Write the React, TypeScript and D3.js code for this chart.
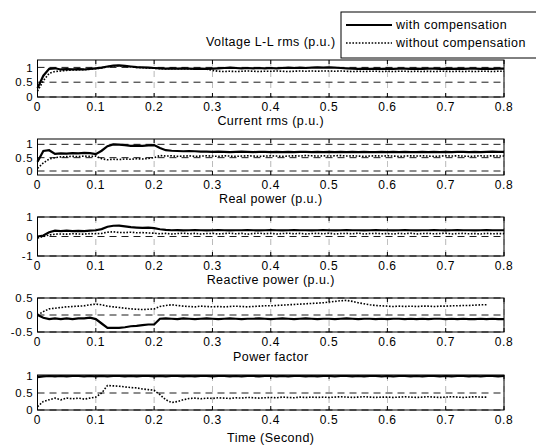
import React from "react";
import * as d3 from "d3";

// time axis (s)
const time = [
  0, 0.01, 0.02, 0.03, 0.04, 0.05, 0.06, 0.07, 0.08, 0.09,
  0.1, 0.11, 0.12, 0.13, 0.14, 0.15, 0.16, 0.17, 0.18, 0.19,
  0.2, 0.21, 0.22, 0.23, 0.24, 0.25, 0.26, 0.27, 0.28, 0.29,
  0.3, 0.31, 0.32, 0.33, 0.34, 0.35, 0.36, 0.37, 0.38, 0.39,
  0.4, 0.41, 0.42, 0.43, 0.44, 0.45, 0.46, 0.47, 0.48, 0.49,
  0.5, 0.51, 0.52, 0.53, 0.54, 0.55, 0.56, 0.57, 0.58, 0.59,
  0.6, 0.61, 0.62, 0.63, 0.64, 0.65, 0.66, 0.67, 0.68, 0.69,
  0.7, 0.71, 0.72, 0.73, 0.74, 0.75, 0.76, 0.77, 0.78, 0.79,
  0.8,
];
const xTicks = [0, 0.1, 0.2, 0.3, 0.4, 0.5, 0.6, 0.7, 0.8];

const voltageWith = [
  0.30, 0.72, 0.95, 0.97, 0.93, 0.94, 0.93, 0.94, 0.93, 0.95,
  0.97, 0.99, 1.03, 1.06, 1.07, 1.05, 1.03, 1.01, 1.00, 0.99,
  0.98, 0.97, 0.96, 0.97, 0.96, 0.97, 0.96, 0.95, 0.96, 0.95,
  0.96, 0.97, 0.98, 0.99, 0.98, 0.97, 0.98, 0.97, 0.98, 0.97,
  0.98, 0.97, 0.98, 0.99, 0.98, 0.99, 0.98, 0.99, 1.00, 0.99,
  1.00, 0.99, 0.98, 0.97, 0.96, 0.95, 0.96, 0.95, 0.96, 0.95,
  0.96, 0.95, 0.96, 0.96, 0.95, 0.96, 0.95, 0.96, 0.96, 0.95,
  0.96, 0.95, 0.96, 0.95, 0.96, 0.96, 0.95, 0.96, 0.95, 0.96,
  0.96,
];
const voltageWithout = [
  0.20, 0.55, 0.80, 0.86, 0.88, 0.90, 0.91, 0.92, 0.92, 0.94,
  0.96, 0.98, 1.02, 1.05, 1.06, 1.04, 1.02, 1.00, 0.99, 0.98,
  0.97, 0.96, 0.95, 0.96, 0.95, 0.96, 0.95, 0.94, 0.95, 0.94,
  0.90, 0.87, 0.86, 0.87, 0.86, 0.87, 0.88, 0.87, 0.86, 0.87,
  0.87, 0.88, 0.87, 0.86, 0.87, 0.88, 0.87, 0.88, 0.87, 0.88,
  0.88, 0.87, 0.88, 0.87, 0.86, 0.87, 0.86, 0.87, 0.87, 0.86,
  0.87, 0.86, 0.87, 0.87, 0.86, 0.87, 0.86, 0.87, 0.86, 0.87,
  0.87, 0.86, 0.87, 0.86, 0.87, 0.86, 0.87, 0.87, 0.86, 0.87,
  0.87,
];

const currentWith = [
  0.35, 0.75, 0.78, 0.64, 0.66, 0.65, 0.67, 0.66, 0.68, 0.67,
  0.63, 0.76, 0.93, 1.00, 0.99, 0.97, 0.94, 0.95, 0.94, 0.96,
  0.97, 0.86, 0.78, 0.76, 0.75, 0.74, 0.75, 0.74, 0.73, 0.73,
  0.72, 0.73, 0.72, 0.71, 0.72, 0.73, 0.72, 0.71, 0.72, 0.72,
  0.71, 0.72, 0.71, 0.72, 0.71, 0.72, 0.72, 0.71, 0.72, 0.71,
  0.72, 0.71, 0.72, 0.71, 0.72, 0.71, 0.72, 0.71, 0.71, 0.72,
  0.71, 0.72, 0.71, 0.72, 0.71, 0.71, 0.72, 0.71, 0.72, 0.71,
  0.72, 0.71, 0.72, 0.72, 0.71, 0.72, 0.71, 0.72, 0.73, 0.72,
  0.72,
];
const currentWithout = [
  0.10, 0.30, 0.45, 0.50, 0.53, 0.54, 0.55, 0.54, 0.56, 0.55,
  0.56, 0.46, 0.42, 0.44, 0.43, 0.45, 0.44, 0.46, 0.45, 0.47,
  0.50, 0.58, 0.56, 0.57, 0.55, 0.56, 0.57, 0.55, 0.56, 0.57,
  0.56, 0.55, 0.57, 0.56, 0.55, 0.56, 0.57, 0.56, 0.55, 0.56,
  0.57, 0.56, 0.55, 0.56, 0.57, 0.56, 0.58, 0.57, 0.56, 0.57,
  0.56, 0.57, 0.58, 0.56, 0.57, 0.56, 0.55, 0.56, 0.57, 0.56,
  0.57, 0.56, 0.55, 0.56, 0.57, 0.56, 0.57, 0.56, 0.55, 0.56,
  0.57, 0.56, 0.57, 0.56, 0.55, 0.56, 0.57, 0.56, 0.57, 0.56,
  0.56,
];

const realWith = [
  0.00, 0.05, 0.22, 0.30, 0.28, 0.30, 0.28, 0.29, 0.28, 0.30,
  0.32, 0.38, 0.50, 0.55, 0.56, 0.52, 0.48, 0.46, 0.44, 0.45,
  0.43, 0.37, 0.34, 0.32, 0.33, 0.31, 0.32, 0.33, 0.32, 0.31,
  0.32, 0.33, 0.32, 0.31, 0.32, 0.32, 0.33, 0.32, 0.31, 0.32,
  0.33, 0.32, 0.31, 0.32, 0.33, 0.32, 0.32, 0.31, 0.32, 0.33,
  0.32, 0.31, 0.32, 0.33, 0.32, 0.32, 0.31, 0.32, 0.33, 0.32,
  0.32, 0.31, 0.32, 0.33, 0.32, 0.31, 0.32, 0.32, 0.33, 0.32,
  0.31, 0.32, 0.33, 0.32, 0.32, 0.31, 0.32, 0.33, 0.32, 0.32,
  0.32,
];
const realWithout = [
  -0.08, 0.00, 0.08, 0.12, 0.13, 0.12, 0.14, 0.13, 0.12, 0.15,
  0.14, 0.16, 0.22, 0.24, 0.21, 0.20, 0.22, 0.19, 0.20, 0.18,
  0.17, 0.14, 0.16, 0.13, 0.15, 0.17, 0.14, 0.16, 0.13, 0.15,
  0.16, 0.13, 0.15, 0.17, 0.14, 0.16, 0.12, 0.15, 0.17, 0.14,
  0.16, 0.13, 0.15, 0.17, 0.14, 0.16, 0.13, 0.15, 0.16, 0.14,
  0.17, 0.13, 0.15, 0.16, 0.14, 0.17, 0.13, 0.15, 0.16, 0.14,
  0.15, 0.13, 0.16, 0.14, 0.17, 0.13, 0.15, 0.16, 0.14, 0.15,
  0.17, 0.13, 0.15, 0.16, 0.14, 0.15, 0.13, 0.16, 0.14, 0.15,
  0.15,
];

const reactiveWith = [
  0.00, -0.08, -0.12, -0.10, -0.12, -0.10, -0.12, -0.10, -0.10, -0.08,
  -0.12, -0.25, -0.38, -0.38, -0.38, -0.36, -0.33, -0.32, -0.30, -0.28,
  -0.28, -0.11, -0.10, -0.11, -0.12, -0.10, -0.11, -0.12, -0.11, -0.10,
  -0.11, -0.12, -0.11, -0.10, -0.11, -0.12, -0.11, -0.11, -0.10, -0.11,
  -0.12, -0.11, -0.10, -0.11, -0.12, -0.11, -0.10, -0.11, -0.12, -0.11,
  -0.11, -0.12, -0.11, -0.10, -0.11, -0.12, -0.11, -0.11, -0.12, -0.11,
  -0.12, -0.11, -0.11, -0.12, -0.11, -0.12, -0.11, -0.12, -0.11, -0.11,
  -0.12, -0.11, -0.12, -0.11, -0.12, -0.12, -0.11, -0.12, -0.11, -0.12,
  -0.12,
];
const reactiveWithout = [
  0.00, 0.10, 0.18, 0.20, 0.22, 0.24, 0.25, 0.26, 0.27, 0.30,
  0.32, 0.30, 0.26, 0.24, 0.22, 0.20, 0.18, 0.17, 0.16, 0.17,
  0.18, 0.25, 0.28, 0.30, 0.28, 0.26, 0.25, 0.24, 0.26, 0.25,
  0.24, 0.25, 0.24, 0.25, 0.26, 0.25, 0.24, 0.25, 0.26, 0.27,
  0.27, 0.28, 0.29, 0.30, 0.31, 0.32, 0.33, 0.34, 0.35, 0.36,
  0.38, 0.40, 0.42, 0.43, 0.40, 0.36, 0.33, 0.30, 0.28, 0.27,
  0.26, 0.25, 0.26, 0.25, 0.26, 0.25, 0.26, 0.26, 0.25, 0.26,
  0.26, 0.27, 0.27, 0.28, 0.28, 0.29, 0.30, 0.30, null, null,
  null,
];

const pfWith = [
  0.97, 0.99, 1.00, 0.99, 1.00, 0.99, 1.00, 1.00, 0.99, 1.00,
  0.99, 1.00, 0.99, 1.00, 1.00, 0.99, 1.00, 0.99, 1.00, 1.00,
  0.99, 1.00, 0.99, 1.00, 1.00, 0.99, 1.00, 0.99, 1.00, 1.00,
  0.99, 1.00, 1.00, 0.99, 1.00, 0.99, 1.00, 1.00, 0.99, 1.00,
  1.00, 0.99, 1.00, 0.99, 1.00, 1.00, 0.99, 1.00, 0.99, 1.00,
  1.00, 0.99, 1.00, 1.00, 0.99, 1.00, 0.99, 1.00, 1.00, 0.99,
  1.00, 0.99, 1.00, 1.00, 0.99, 1.00, 0.99, 1.00, 1.00, 0.99,
  1.00, 0.99, 1.00, 1.00, 0.99, 1.00, 0.99, 1.00, 1.00, 0.99,
  1.00,
];
const pfWithout = [
  0.10, 0.25, 0.30, 0.35, 0.30, 0.35, 0.33, 0.35, 0.32, 0.35,
  0.38, 0.50, 0.72, 0.71, 0.70, 0.68, 0.66, 0.65, 0.62, 0.60,
  0.58, 0.45, 0.30, 0.22, 0.25, 0.30, 0.34, 0.35, 0.33, 0.35,
  0.34, 0.36, 0.35, 0.34, 0.36, 0.35, 0.37, 0.36, 0.35, 0.36,
  0.37, 0.36, 0.38, 0.37, 0.36, 0.38, 0.37, 0.38, 0.37, 0.38,
  0.37, 0.38, 0.39, 0.38, 0.37, 0.38, 0.39, 0.38, 0.37, 0.38,
  0.38, 0.37, 0.38, 0.39, 0.38, 0.37, 0.38, 0.39, 0.38, 0.37,
  0.38, 0.39, 0.38, 0.37, 0.38, 0.39, 0.38, 0.38, null, null,
  null,
];

const titles = [
  "Voltage L-L rms (p.u.)",
  "Current rms (p.u.)",
  "Real power (p.u.)",
  "Reactive power (p.u.)",
  "Power factor",
];
const legendLabels = ["with compensation", "without compensation"];
const xLabel = "Time (Second)";

const W = 536;
const H = 446;
const left = 37.5;
const right = 504;
const font = "'Liberation Sans', Arial, sans-serif";
const fsTitle = 12.5;
const fsTick = 12;
const fsYTick = 11.4;

const panels = [
  { title: titles[0], withC: voltageWith, withoutC: voltageWithout, top: 60, bottom: 97, domain: [0, 1.25], ticks: [0, 0.5, 1] },
  { title: titles[1], withC: currentWith, withoutC: currentWithout, top: 139, bottom: 175, domain: [-0.15, 1.2], ticks: [0, 0.5, 1] },
  { title: titles[2], withC: realWith, withoutC: realWithout, top: 217, bottom: 256, domain: [-1, 1], ticks: [-1, 0, 1] },
  { title: titles[3], withC: reactiveWith, withoutC: reactiveWithout, top: 298, bottom: 332, domain: [-0.5, 0.5], ticks: [-0.5, 0, 0.5] },
  { title: titles[4], withC: pfWith, withoutC: pfWithout, top: 375, bottom: 410, domain: [0, 1.03], ticks: [0, 0.5, 1] },
];

const x = d3.scaleLinear().domain([0, 0.8]).range([left, right]);

function Panel({ p }: { p: any }) {
  const y = d3.scaleLinear().domain(p.domain).range([p.bottom, p.top]);
  const line = d3
    .line<number | null>()
    .defined((d) => d !== null)
    .x((_, i) => x(time[i]))
    .y((d) => y(d as number));
  return (
    <g>
      <text x={(left + right) / 2} y={p.top - 13.6} textAnchor="middle" fontSize={fsTitle} letterSpacing={0.45}>
        {p.title}
      </text>
      {xTicks.map((t) => (
        <line key={"vg" + t} x1={x(t)} x2={x(t)} y1={p.top} y2={p.bottom}
          stroke="#000" strokeWidth={0.7} strokeDasharray="6,5" opacity={0.4} />
      ))}
      {p.ticks.map((t: number) => (
        <line key={"hg" + t} x1={left} x2={right} y1={y(t)} y2={y(t)}
          stroke="#000" strokeWidth={0.9} strokeDasharray="7,5" />
      ))}
      <path d={line(p.withoutC) || ""} fill="none" stroke="#000" strokeWidth={1.6} strokeDasharray="1.6,1.6" />
      <path d={line(p.withC) || ""} fill="none" stroke="#000" strokeWidth={2.2} />
      <rect x={left} y={p.top} width={right - left} height={p.bottom - p.top} fill="none" stroke="#000" strokeWidth={1} />
      {xTicks.map((t) => (
        <g key={"xt" + t}>
          <line x1={x(t)} x2={x(t)} y1={p.bottom} y2={p.bottom - 4} stroke="#000" />
          <line x1={x(t)} x2={x(t)} y1={p.top} y2={p.top + 4} stroke="#000" />
          <text x={x(t)} y={p.bottom + 13.8} textAnchor="middle" fontSize={fsTick} letterSpacing={0.6}>
            {t}
          </text>
        </g>
      ))}
      {p.ticks.map((t: number) => (
        <text key={"yt" + t} x={left - 4} y={y(t) + 4.1} textAnchor="end" fontSize={fsYTick} letterSpacing={0.8}>
          {t}
        </text>
      ))}
    </g>
  );
}

export default function App() {
  const lx = 341;
  const ly = 12;
  return (
    <svg width={W} height={H} style={{ position: "absolute", left: 0, top: 0, background: "#fff" }}
      fontFamily={font} fill="#000">
      <rect width={W} height={H} fill="#fff" />
      {panels.map((p, i) => (
        <Panel key={i} p={p} />
      ))}
      <text x={(left + right) / 2} y={441.5} textAnchor="middle" fontSize={fsTitle} letterSpacing={0.45}>
        {xLabel}
      </text>
      <g>
        <rect x={lx} y={ly} width={W - lx + 5} height={46} fill="#fff" stroke="#000" strokeWidth={1} />
        <line x1={lx + 5} x2={lx + 51} y1={ly + 13} y2={ly + 13} stroke="#000" strokeWidth={2.2} />
        <text x={lx + 55} y={ly + 17.4} fontSize={fsTitle} letterSpacing={0.45}>{legendLabels[0]}</text>
        <line x1={lx + 5} x2={lx + 51} y1={ly + 31} y2={ly + 31} stroke="#000" strokeWidth={1.6} strokeDasharray="1.6,1.6" />
        <text x={lx + 55} y={ly + 35.4} fontSize={fsTitle} letterSpacing={0.45}>{legendLabels[1]}</text>
      </g>
    </svg>
  );
}
